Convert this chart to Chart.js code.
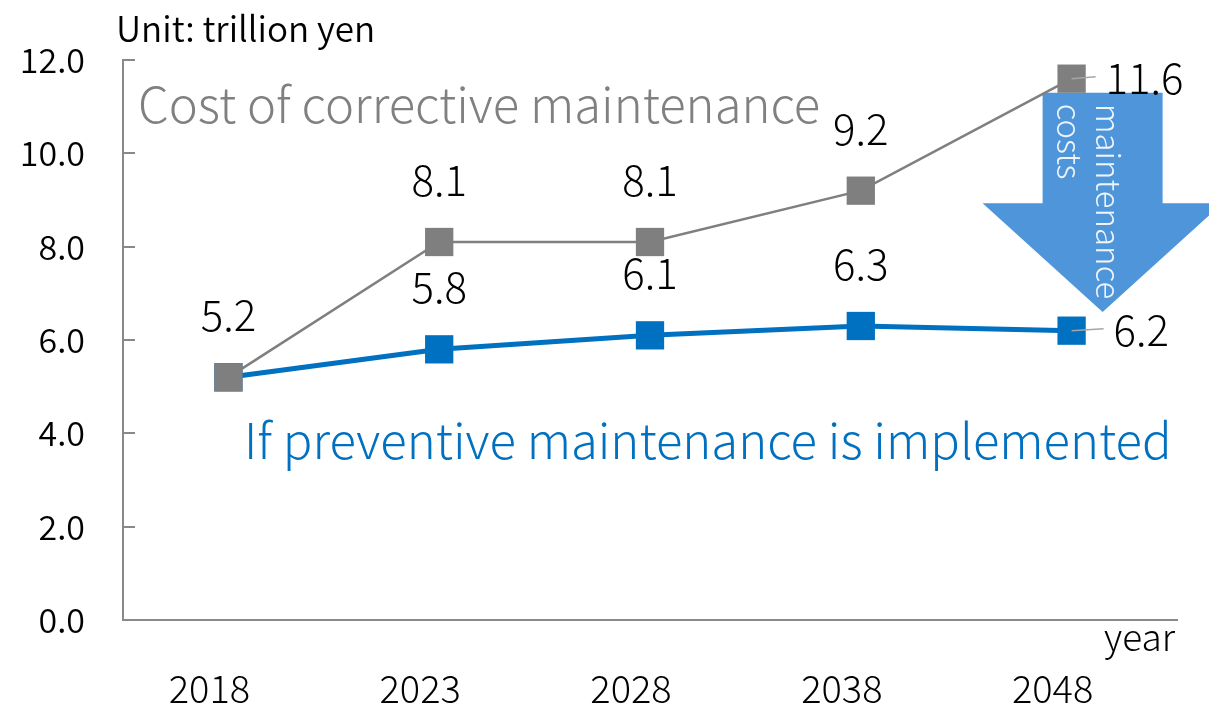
<!DOCTYPE html>
<html>
<head>
<meta charset="utf-8">
<script src="https://cdn.jsdelivr.net/npm/chart.js@4.4.1/dist/chart.umd.min.js"></script>
<style>
  html, body { margin: 0; padding: 0; background: #fff; }
</style>
</head>
<body>
<canvas id="chart" width="1209" height="706"></canvas>
<script>
const years = ["2018", "2023", "2028", "2038", "2048"];
const corrective = [5.2, 8.1, 8.1, 9.2, 11.6];
const preventive = [5.2, 5.8, 6.1, 6.3, 6.2];
// which points carry a value label (null = no label)
const correctiveLabels = [null, "8.1", "8.1", "9.2", "11.6"];
const preventiveLabels = ["5.2", "5.8", "6.1", "6.3", "6.2"];

const FONT = "'Noto Sans CJK JP DemiLight', 'Noto Sans CJK JP', 'Noto Sans', sans-serif";
const LIGHT = "'Noto Sans CJK JP Light', 'Noto Sans CJK JP', 'Noto Sans', sans-serif";
const GRAY = "#7f7f7f";
const BLUE = "#0070c0";
const AXIS = "#898989";

// short ticks pointing into the plot, like the original
const innerTicks = {
  id: "innerTicks",
  afterDraw(chart) {
    const y = chart.scales.y;
    const ctx = chart.ctx;
    ctx.save();
    ctx.strokeStyle = AXIS;
    ctx.lineWidth = 2;
    y.ticks.forEach((t) => {
      const py = Math.round(y.getPixelForValue(t.value));
      ctx.beginPath();
      ctx.moveTo(y.right, py);
      ctx.lineTo(y.right + 12, py);
      ctx.stroke();
    });
    ctx.restore();
  },
};

// big blue "reduction" arrow next to the 2048 points
const arrow = {
  id: "arrow",
  beforeDatasetsDraw(chart) {
    const { ctx, scales } = chart;
    const xc = scales.x.getPixelForValue(4) + 31;
    const top = scales.y.getPixelForValue(11.3);
    const neck = scales.y.getPixelForValue(8.93);
    const tip = scales.y.getPixelForValue(6.6);
    ctx.save();
    ctx.fillStyle = "#4f95d9";
    ctx.beginPath();
    ctx.moveTo(xc - 60, top);
    ctx.lineTo(xc + 60, top);
    ctx.lineTo(xc + 60, neck);
    ctx.lineTo(xc + 120, neck);
    ctx.lineTo(xc, tip);
    ctx.lineTo(xc - 120, neck);
    ctx.lineTo(xc - 60, neck);
    ctx.closePath();
    ctx.fill();

    ctx.fillStyle = "#eef4fb";
    ctx.font = "300 33px " + LIGHT;
    ctx.textAlign = "left";
    ctx.textBaseline = "middle";
    ctx.translate(xc, top + 11);
    ctx.rotate(Math.PI / 2);
    ctx.fillText("maintenance", 0, -6);
    ctx.fillText("costs", 0, 33);
    ctx.restore();
  },
};

function drawLabels(ctx, meta, labels, sideGap) {
  meta.data.forEach((pt, i) => {
    const txt = labels[i];
    if (!txt) return;
    if (i === labels.length - 1) {
      ctx.strokeStyle = "#a6a6a6";
      ctx.lineWidth = 1.5;
      ctx.beginPath();
      ctx.moveTo(pt.x, pt.y);
      ctx.lineTo(pt.x + sideGap - 10, pt.y - 2);
      ctx.stroke();
      ctx.textAlign = "left";
      ctx.fillText(txt, pt.x + sideGap, pt.y - 1);
    } else {
      ctx.textAlign = "center";
      ctx.fillText(txt, pt.x, pt.y - 62);
    }
  });
}

const annotations = {
  id: "annotations",
  afterDatasetsDraw(chart) {
    const { ctx, chartArea } = chart;
    ctx.save();
    ctx.fillStyle = "#000";
    ctx.font = "300 42px " + LIGHT;
    ctx.textBaseline = "middle";
    drawLabels(ctx, chart.getDatasetMeta(0), correctiveLabels, 34);
    drawLabels(ctx, chart.getDatasetMeta(1), preventiveLabels, 42);

    ctx.textAlign = "left";
    ctx.font = "350 35px " + FONT;
    ctx.fillStyle = "#000";
    ctx.fillText("Unit: trillion yen", 116, 29);

    ctx.font = "300 49px " + LIGHT;
    ctx.fillStyle = "#808080";
    ctx.fillText("Cost of corrective maintenance", chartArea.left + 15, 104);

    ctx.fillStyle = BLUE;
    ctx.fillText("If preventive maintenance is implemented", 244, 440);

    ctx.fillStyle = "#000";
    ctx.textAlign = "right";
    ctx.font = "300 37px " + LIGHT;
    ctx.fillText("year", chartArea.right - 2, 637);
    ctx.restore();
  },
};

new Chart(document.getElementById("chart"), {
  type: "line",
  data: {
    labels: years,
    datasets: [
      {
        label: "Cost of corrective maintenance",
        data: corrective,
        borderColor: GRAY,
        backgroundColor: GRAY,
        borderWidth: 2.5,
        pointStyle: "rect",
        pointRadius: 20,
        pointHoverRadius: 20,
        pointBorderWidth: 0,
        tension: 0,
      },
      {
        label: "If preventive maintenance is implemented",
        data: preventive,
        borderColor: BLUE,
        backgroundColor: BLUE,
        borderWidth: 5,
        pointStyle: "rect",
        pointRadius: 20,
        pointHoverRadius: 20,
        pointBorderWidth: 0,
        tension: 0,
      },
    ],
  },
  options: {
    responsive: false,
    animation: false,
    layout: { padding: { top: 60, right: 32, left: 0, bottom: 0 } },
    plugins: {
      legend: { display: false },
      tooltip: { enabled: false },
    },
    scales: {
      x: {
        offset: true,
        grid: { display: true, drawOnChartArea: false, drawTicks: false },
        border: { display: true, color: AXIS, width: 2 },
        ticks: {
          color: "#000",
          padding: 46,
          labelOffset: -19,
          font: { family: LIGHT, size: 38, weight: 300 },
        },
        afterFit: (s) => { s.height = 86; },
      },
      y: {
        min: 0,
        max: 12,
        grid: { display: true, drawOnChartArea: false, drawTicks: false },
        border: { display: true, color: AXIS, width: 2 },
        ticks: {
          stepSize: 2,
          color: "#000",
          padding: 38,
          font: { family: FONT, size: 34, weight: 350 },
          callback: (v) => Number(v).toFixed(1),
        },
        afterFit: (s) => { s.width = 123; },
      },
    },
  },
  plugins: [innerTicks, arrow, annotations],
});
</script>
</body>
</html>
